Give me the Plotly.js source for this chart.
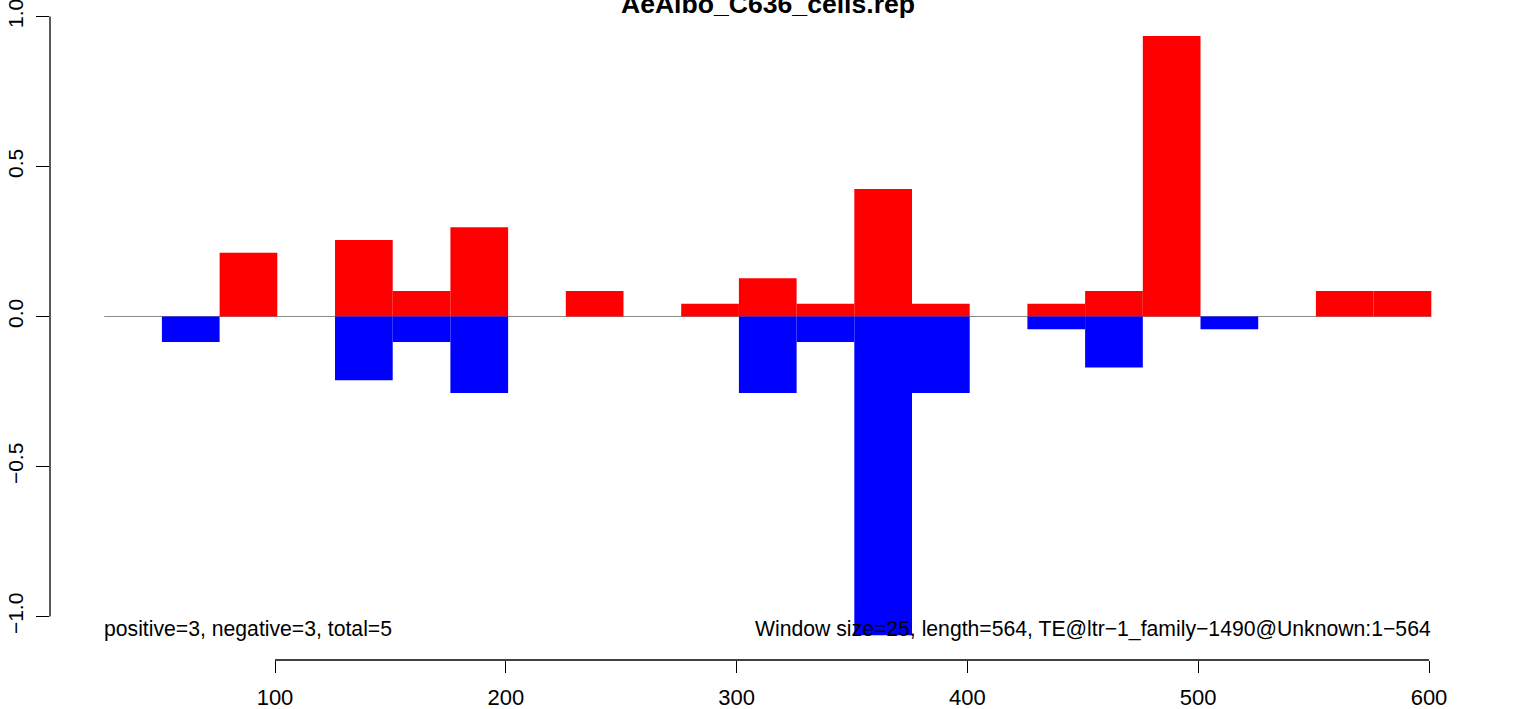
<!DOCTYPE html>
<html>
<head>
<meta charset="utf-8">
<script src="https://cdn.plot.ly/plotly-3.0.1.min.js"></script>
<style>html,body{margin:0;padding:0;background:#fff;}#chart{width:1536px;height:709px;}</style>
</head>
<body>
<div id="chart"></div>
<script>
// ---- data ----
const chartTitle = "AeAlbo_C636_cells.rep";
const windowSize = 25;
// window start positions for positive (red) and negative (blue) bars
const posStart = [76, 126, 151, 176, 226, 276, 301, 326, 351, 376, 426, 451, 476, 551, 576];
const posValues = [0.2125, 0.255, 0.085, 0.2975, 0.085, 0.0425, 0.1275, 0.0425, 0.425, 0.0425, 0.0425, 0.085, 0.935, 0.085, 0.085];
const negStart = [51, 126, 151, 176, 301, 326, 351, 376, 426, 451, 501];
const negValues = [-0.085, -0.2125, -0.085, -0.255, -0.255, -0.085, -1.0625, -0.255, -0.0425, -0.17, -0.0425];
const baselineFrom = 26, baselineTo = 601;
const xTicks = [100, 200, 300, 400, 500, 600];
const xTickText = ["100", "200", "300", "400", "500", "600"];
const yTicks = [-1, -0.5, 0, 0.5, 1];
const yTickText = ["\u22121.0", "\u22120.5", "0.0", "0.5", "1.0"];
const leftNote = "positive=3, negative=3, total=5";
const rightNote = "Window size=25, length=564, TE@ltr\u22121_family\u22121490@Unknown:1\u2212564";

// ---- drawing ----
const FONT = "Liberation Sans, Arial, Helvetica, sans-serif";
const centers = s => s.map(v => v + windowSize / 2);

const traces = [
  {type: "bar", x: centers(posStart), y: posValues, width: windowSize,
   marker: {color: "#FF0000", line: {width: 0}}, hoverinfo: "x+y"},
  {type: "bar", x: centers(negStart), y: negValues, width: windowSize,
   marker: {color: "#0000FF", line: {width: 0}}, hoverinfo: "x+y"}
];

const layout = {
  width: 1536, height: 709,
  margin: {l: 50, r: 0, t: 0, b: 49, pad: 0},
  paper_bgcolor: "#fff", plot_bgcolor: "#fff",
  showlegend: false,
  barmode: "overlay",
  font: {family: FONT, color: "#000"},
  title: {text: "<b>" + chartTitle + "</b>", font: {family: FONT, size: 26.6, color: "#000"},
          xref: "container", x: 0.5, xanchor: "center", yref: "container", y: 0.9955, yanchor: "middle"},
  xaxis: {range: [2.51, 646.36], tickvals: xTicks, ticktext: xTickText,
          ticks: "outside", ticklen: 12, tickwidth: 1, tickcolor: "#000",
          showgrid: false, zeroline: false, showline: false, ticklabeloverflow: "allow",
          tickfont: {family: FONT, size: 22, color: "#000"}, ticklabelstandoff: 6},
  yaxis: {range: [-1.145, 1.055], tickvals: yTicks, ticktext: yTickText,
          ticks: "outside", ticklen: 13, tickwidth: 1, tickcolor: "#000", tickangle: -90,
          showgrid: false, zeroline: false, showline: false, ticklabeloverflow: "allow",
          tickfont: {family: FONT, size: 21, color: "#000"}, ticklabelstandoff: 5},
  shapes: [
    {type: "line", layer: "below", xref: "x", yref: "y", x0: baselineFrom, x1: baselineTo, y0: 0, y1: 0,
     line: {color: "#8c8c8c", width: 1.2}},
    {type: "line", xref: "x", yref: "paper", x0: xTicks[0], x1: xTicks[xTicks.length - 1], y0: 0, y1: 0,
     line: {color: "#000", width: 1.3}},
    {type: "line", xref: "paper", yref: "y", x0: 0, x1: 0, y0: yTicks[0], y1: yTicks[yTicks.length - 1],
     line: {color: "#000", width: 1.3}}
  ],
  annotations: [
    {text: leftNote, xref: "x", yref: "y", x: baselineFrom, y: -1.04, xanchor: "left", yanchor: "middle",
     showarrow: false, font: {family: FONT, size: 21.2, color: "#000"}, xshift: -2},
    {text: rightNote, xref: "x", yref: "y", x: baselineTo, y: -1.04, xanchor: "right", yanchor: "middle",
     showarrow: false, font: {family: FONT, size: 21.2, color: "#000"}, xshift: 2}
  ]
};

Plotly.newPlot("chart", traces, layout, {staticPlot: true, displayModeBar: false});
</script>
</body>
</html>
